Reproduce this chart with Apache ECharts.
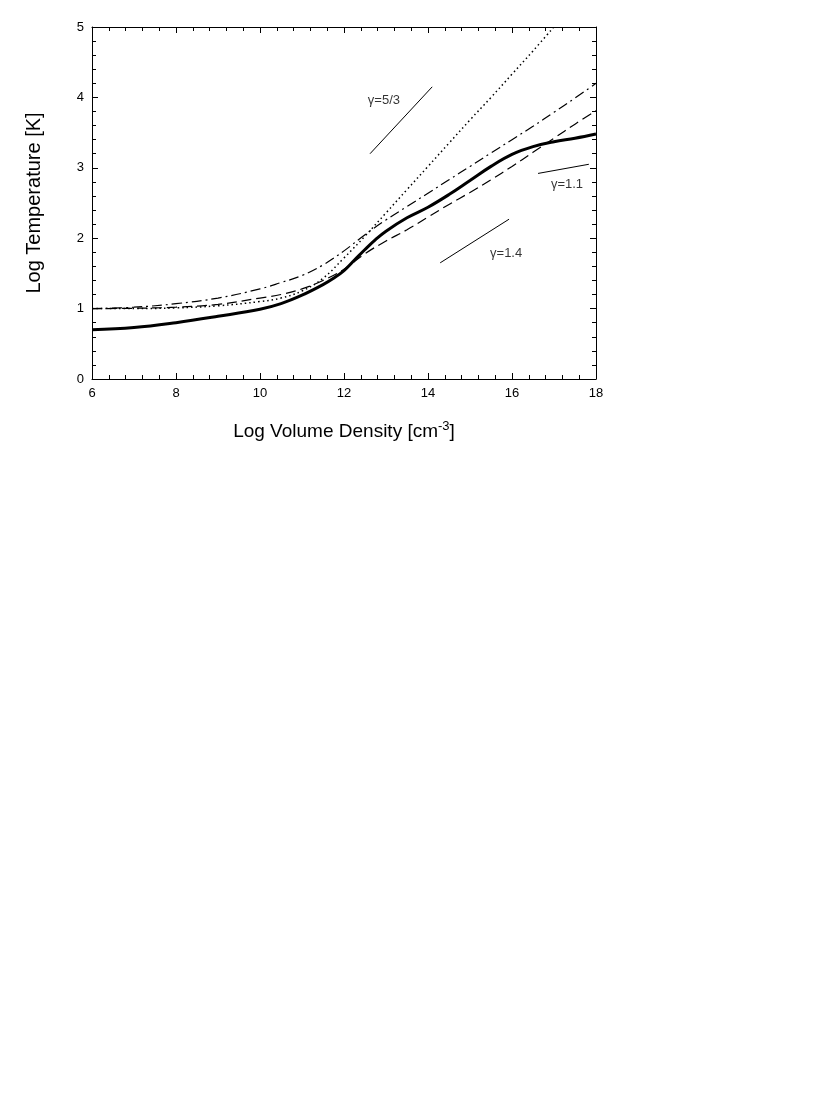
<!DOCTYPE html>
<html>
<head>
<meta charset="utf-8">
<script src="https://cdn.jsdelivr.net/npm/echarts@6/dist/echarts.min.js"></script>
<style>
html, body { margin: 0; padding: 0; background: #fff; }
#chart { width: 831px; height: 1098px; }
</style>
</head>
<body>
<div id="chart"></div>
<script>
// log density grid shared by the dashed curves
const density = [6, 7, 8, 9, 10, 10.5, 11, 11.5, 12, 12.5, 13, 13.5, 14, 14.5, 15, 15.5, 16, 16.5, 17, 17.5, 18];
const tempDashed = [1.00, 1.005, 1.02, 1.06, 1.15, 1.20, 1.28, 1.40, 1.56, 1.78, 1.96, 2.12, 2.30, 2.48, 2.65, 2.83, 3.02, 3.22, 3.42, 3.62, 3.81];
const tempDashDot = [1.00, 1.02, 1.07, 1.15, 1.28, 1.37, 1.47, 1.62, 1.82, 2.05, 2.26, 2.45, 2.64, 2.83, 3.02, 3.21, 3.40, 3.59, 3.79, 3.99, 4.20];

// thick solid curve, denser around the steep part
const densitySolid = [6, 7, 8, 9, 10, 10.5, 11, 11.5, 11.75, 12, 12.25, 12.5, 12.75, 13, 13.5, 14, 14.5, 15, 15.5, 16, 16.5, 17, 17.5, 18];
const tempSolid = [0.70, 0.73, 0.80, 0.89, 0.99, 1.07, 1.19, 1.34, 1.43, 1.54, 1.69, 1.84, 1.98, 2.10, 2.29, 2.44, 2.62, 2.82, 3.02, 3.19, 3.30, 3.37, 3.42, 3.48];

// dotted curve leaves the frame at the top
const densityDotted = [6, 7, 8, 9, 10, 10.5, 11, 11.5, 12, 12.5, 13, 13.5, 14, 14.5, 15, 15.5, 16, 16.5, 16.98];
const tempDotted = [1.00, 1.00, 1.01, 1.04, 1.10, 1.15, 1.25, 1.43, 1.72, 2.03, 2.36, 2.69, 3.02, 3.35, 3.68, 4.00, 4.33, 4.66, 4.99];

// reference slope segments [x0, y0, x1, y1]
const gamma53 = [12.62, 3.20, 14.10, 4.15];
const gamma14 = [14.29, 1.65, 15.93, 2.27];
const gamma11 = [16.62, 2.92, 17.83, 3.05];
const gammaLabels = ['γ=5/3', 'γ=1.4', 'γ=1.1'];
const gammaLabelPos = [[12.95, 3.96], [15.86, 1.78], [17.31, 2.76]];

const xTicks = [6, 8, 10, 12, 14, 16, 18];
const yTicks = [0, 1, 2, 3, 4, 5];

const pair = (xs, ys) => xs.map((x, i) => [x, ys[i]]);
const seg = s => [[s[0], s[1]], [s[2], s[3]]];

const font = 'Liberation Sans, Arial, Helvetica, sans-serif';
const axisBase = {
  type: 'value',
  axisLine: { show: true, onZero: false, lineStyle: { color: '#000', width: 1 } },
  axisTick: { show: true, inside: true, length: 6, lineStyle: { color: '#000', width: 1 } },
  minorTick: { show: true, splitNumber: 5, length: 4, lineStyle: { color: '#000', width: 1 } },
  splitLine: { show: false },
  minorSplitLine: { show: false }
};

const chart = echarts.init(document.getElementById('chart'));

const curve = (data, width, dash) => ({
  type: 'line',
  data: data,
  showSymbol: false,
  smooth: 0.4,
  lineStyle: { color: '#000', width: width, type: dash },
  silent: true
});

const thin = s => ({
  type: 'line',
  data: seg(s),
  showSymbol: false,
  lineStyle: { color: '#000', width: 1 },
  silent: true
});

const option = {
  animation: false,
  backgroundColor: '#fff',
  grid: { left: 92, top: 27, width: 504, height: 352 },
  xAxis: [
    Object.assign({}, axisBase, {
      min: xTicks[0], max: xTicks[xTicks.length - 1], interval: 2,
      position: 'bottom',
      axisLabel: { color: '#000', fontFamily: font, fontSize: 13, margin: 8 },
      name: '{n|Log Volume Density [cm}{s|-3}{n|]}',
      nameLocation: 'middle',
      nameGap: 41,
      nameTextStyle: {
        rich: {
          n: { fontFamily: font, fontSize: 19, color: '#000' },
          s: { fontFamily: font, fontSize: 13, color: '#000', verticalAlign: 'top', padding: [0, 0, 10, 0] }
        }
      }
    }),
    Object.assign({}, axisBase, {
      min: xTicks[0], max: xTicks[xTicks.length - 1], interval: 2,
      position: 'top',
      axisLabel: { show: false }
    })
  ],
  yAxis: [
    Object.assign({}, axisBase, {
      min: yTicks[0], max: yTicks[yTicks.length - 1], interval: 1,
      position: 'left',
      axisLabel: { color: '#000', fontFamily: font, fontSize: 13, margin: 8 },
      name: 'Log Temperature [K]',
      nameLocation: 'middle',
      nameGap: 48,
      nameTextStyle: { fontFamily: font, fontSize: 20, color: '#000' }
    }),
    Object.assign({}, axisBase, {
      min: yTicks[0], max: yTicks[yTicks.length - 1], interval: 1,
      position: 'right',
      axisLabel: { show: false }
    })
  ],
  series: [
    curve(pair(density, tempDashDot), 1.2, [10, 4, 2, 4]),
    curve(pair(density, tempDashed), 1.2, [10, 5]),
    curve(pair(densityDotted, tempDotted), 1.5, [1.5, 3]),
    curve(pair(densitySolid, tempSolid), 3, 'solid'),
    thin(gamma53),
    thin(gamma14),
    thin(gamma11),
    {
      type: 'scatter',
      symbolSize: 0,
      silent: true,
      data: gammaLabelPos.map((p, i) => [p[0], p[1], gammaLabels[i]]),
      label: {
        show: true,
        position: 'inside',
        formatter: p => p.data[2],
        color: '#000',
        fontFamily: font,
        fontSize: 13
      }
    }
  ]
};

chart.setOption(option);
</script>
</body>
</html>
